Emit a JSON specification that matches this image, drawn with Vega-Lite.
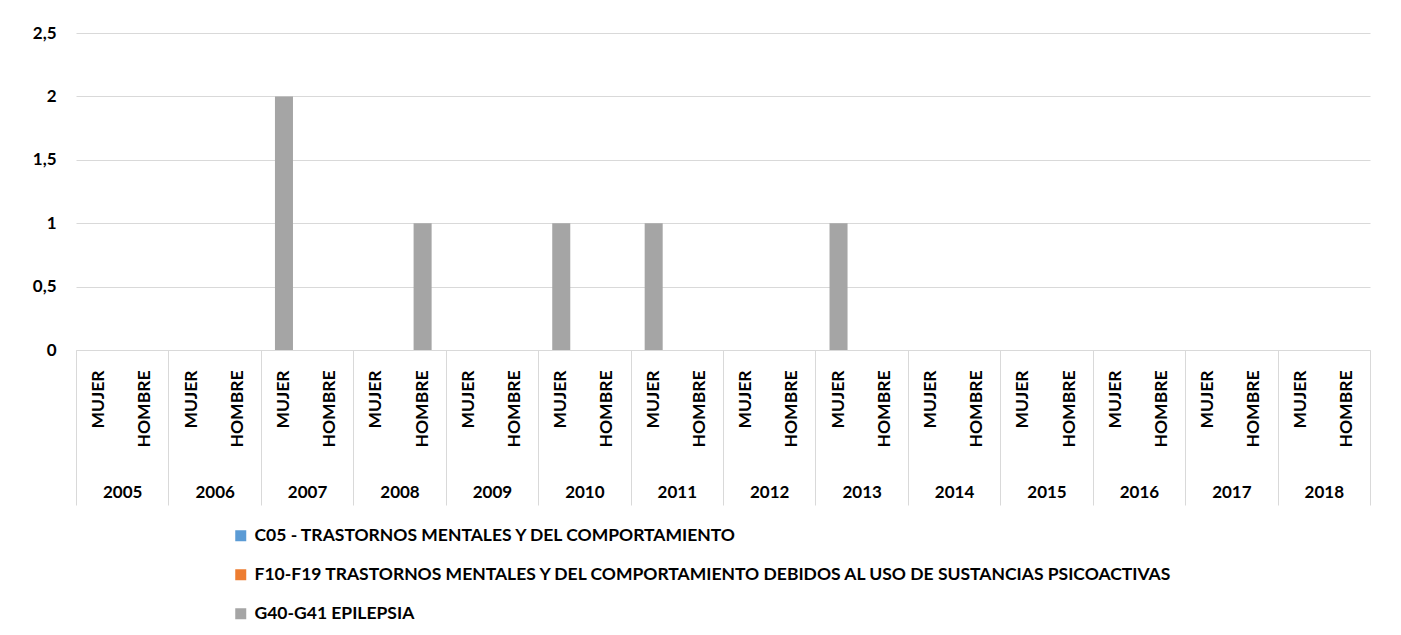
{
  "$schema": "https://vega.github.io/schema/vega-lite/v6.json",
  "autosize": {"type": "none"},
  "width": 1294,
  "height": 317,
  "padding": {"left": 76, "top": 33, "right": 31, "bottom": 285},
  "background": "white",
  "config": {"view": {"stroke": null}, "font": "Lato"},
  "data": {"values": [
    {"year":"2005","sex":"MUJER","x":"2005|MUJER","serie":"C05 - TRASTORNOS MENTALES Y DEL COMPORTAMIENTO","v":0},
    {"year":"2005","sex":"MUJER","x":"2005|MUJER","serie":"F10-F19 TRASTORNOS MENTALES Y DEL COMPORTAMIENTO DEBIDOS AL USO DE SUSTANCIAS PSICOACTIVAS","v":0},
    {"year":"2005","sex":"MUJER","x":"2005|MUJER","serie":"G40-G41 EPILEPSIA","v":0},
    {"year":"2005","sex":"HOMBRE","x":"2005|HOMBRE","serie":"C05 - TRASTORNOS MENTALES Y DEL COMPORTAMIENTO","v":0},
    {"year":"2005","sex":"HOMBRE","x":"2005|HOMBRE","serie":"F10-F19 TRASTORNOS MENTALES Y DEL COMPORTAMIENTO DEBIDOS AL USO DE SUSTANCIAS PSICOACTIVAS","v":0},
    {"year":"2005","sex":"HOMBRE","x":"2005|HOMBRE","serie":"G40-G41 EPILEPSIA","v":0},
    {"year":"2006","sex":"MUJER","x":"2006|MUJER","serie":"C05 - TRASTORNOS MENTALES Y DEL COMPORTAMIENTO","v":0},
    {"year":"2006","sex":"MUJER","x":"2006|MUJER","serie":"F10-F19 TRASTORNOS MENTALES Y DEL COMPORTAMIENTO DEBIDOS AL USO DE SUSTANCIAS PSICOACTIVAS","v":0},
    {"year":"2006","sex":"MUJER","x":"2006|MUJER","serie":"G40-G41 EPILEPSIA","v":0},
    {"year":"2006","sex":"HOMBRE","x":"2006|HOMBRE","serie":"C05 - TRASTORNOS MENTALES Y DEL COMPORTAMIENTO","v":0},
    {"year":"2006","sex":"HOMBRE","x":"2006|HOMBRE","serie":"F10-F19 TRASTORNOS MENTALES Y DEL COMPORTAMIENTO DEBIDOS AL USO DE SUSTANCIAS PSICOACTIVAS","v":0},
    {"year":"2006","sex":"HOMBRE","x":"2006|HOMBRE","serie":"G40-G41 EPILEPSIA","v":0},
    {"year":"2007","sex":"MUJER","x":"2007|MUJER","serie":"C05 - TRASTORNOS MENTALES Y DEL COMPORTAMIENTO","v":0},
    {"year":"2007","sex":"MUJER","x":"2007|MUJER","serie":"F10-F19 TRASTORNOS MENTALES Y DEL COMPORTAMIENTO DEBIDOS AL USO DE SUSTANCIAS PSICOACTIVAS","v":0},
    {"year":"2007","sex":"MUJER","x":"2007|MUJER","serie":"G40-G41 EPILEPSIA","v":2},
    {"year":"2007","sex":"HOMBRE","x":"2007|HOMBRE","serie":"C05 - TRASTORNOS MENTALES Y DEL COMPORTAMIENTO","v":0},
    {"year":"2007","sex":"HOMBRE","x":"2007|HOMBRE","serie":"F10-F19 TRASTORNOS MENTALES Y DEL COMPORTAMIENTO DEBIDOS AL USO DE SUSTANCIAS PSICOACTIVAS","v":0},
    {"year":"2007","sex":"HOMBRE","x":"2007|HOMBRE","serie":"G40-G41 EPILEPSIA","v":0},
    {"year":"2008","sex":"MUJER","x":"2008|MUJER","serie":"C05 - TRASTORNOS MENTALES Y DEL COMPORTAMIENTO","v":0},
    {"year":"2008","sex":"MUJER","x":"2008|MUJER","serie":"F10-F19 TRASTORNOS MENTALES Y DEL COMPORTAMIENTO DEBIDOS AL USO DE SUSTANCIAS PSICOACTIVAS","v":0},
    {"year":"2008","sex":"MUJER","x":"2008|MUJER","serie":"G40-G41 EPILEPSIA","v":0},
    {"year":"2008","sex":"HOMBRE","x":"2008|HOMBRE","serie":"C05 - TRASTORNOS MENTALES Y DEL COMPORTAMIENTO","v":0},
    {"year":"2008","sex":"HOMBRE","x":"2008|HOMBRE","serie":"F10-F19 TRASTORNOS MENTALES Y DEL COMPORTAMIENTO DEBIDOS AL USO DE SUSTANCIAS PSICOACTIVAS","v":0},
    {"year":"2008","sex":"HOMBRE","x":"2008|HOMBRE","serie":"G40-G41 EPILEPSIA","v":1},
    {"year":"2009","sex":"MUJER","x":"2009|MUJER","serie":"C05 - TRASTORNOS MENTALES Y DEL COMPORTAMIENTO","v":0},
    {"year":"2009","sex":"MUJER","x":"2009|MUJER","serie":"F10-F19 TRASTORNOS MENTALES Y DEL COMPORTAMIENTO DEBIDOS AL USO DE SUSTANCIAS PSICOACTIVAS","v":0},
    {"year":"2009","sex":"MUJER","x":"2009|MUJER","serie":"G40-G41 EPILEPSIA","v":0},
    {"year":"2009","sex":"HOMBRE","x":"2009|HOMBRE","serie":"C05 - TRASTORNOS MENTALES Y DEL COMPORTAMIENTO","v":0},
    {"year":"2009","sex":"HOMBRE","x":"2009|HOMBRE","serie":"F10-F19 TRASTORNOS MENTALES Y DEL COMPORTAMIENTO DEBIDOS AL USO DE SUSTANCIAS PSICOACTIVAS","v":0},
    {"year":"2009","sex":"HOMBRE","x":"2009|HOMBRE","serie":"G40-G41 EPILEPSIA","v":0},
    {"year":"2010","sex":"MUJER","x":"2010|MUJER","serie":"C05 - TRASTORNOS MENTALES Y DEL COMPORTAMIENTO","v":0},
    {"year":"2010","sex":"MUJER","x":"2010|MUJER","serie":"F10-F19 TRASTORNOS MENTALES Y DEL COMPORTAMIENTO DEBIDOS AL USO DE SUSTANCIAS PSICOACTIVAS","v":0},
    {"year":"2010","sex":"MUJER","x":"2010|MUJER","serie":"G40-G41 EPILEPSIA","v":1},
    {"year":"2010","sex":"HOMBRE","x":"2010|HOMBRE","serie":"C05 - TRASTORNOS MENTALES Y DEL COMPORTAMIENTO","v":0},
    {"year":"2010","sex":"HOMBRE","x":"2010|HOMBRE","serie":"F10-F19 TRASTORNOS MENTALES Y DEL COMPORTAMIENTO DEBIDOS AL USO DE SUSTANCIAS PSICOACTIVAS","v":0},
    {"year":"2010","sex":"HOMBRE","x":"2010|HOMBRE","serie":"G40-G41 EPILEPSIA","v":0},
    {"year":"2011","sex":"MUJER","x":"2011|MUJER","serie":"C05 - TRASTORNOS MENTALES Y DEL COMPORTAMIENTO","v":0},
    {"year":"2011","sex":"MUJER","x":"2011|MUJER","serie":"F10-F19 TRASTORNOS MENTALES Y DEL COMPORTAMIENTO DEBIDOS AL USO DE SUSTANCIAS PSICOACTIVAS","v":0},
    {"year":"2011","sex":"MUJER","x":"2011|MUJER","serie":"G40-G41 EPILEPSIA","v":1},
    {"year":"2011","sex":"HOMBRE","x":"2011|HOMBRE","serie":"C05 - TRASTORNOS MENTALES Y DEL COMPORTAMIENTO","v":0},
    {"year":"2011","sex":"HOMBRE","x":"2011|HOMBRE","serie":"F10-F19 TRASTORNOS MENTALES Y DEL COMPORTAMIENTO DEBIDOS AL USO DE SUSTANCIAS PSICOACTIVAS","v":0},
    {"year":"2011","sex":"HOMBRE","x":"2011|HOMBRE","serie":"G40-G41 EPILEPSIA","v":0},
    {"year":"2012","sex":"MUJER","x":"2012|MUJER","serie":"C05 - TRASTORNOS MENTALES Y DEL COMPORTAMIENTO","v":0},
    {"year":"2012","sex":"MUJER","x":"2012|MUJER","serie":"F10-F19 TRASTORNOS MENTALES Y DEL COMPORTAMIENTO DEBIDOS AL USO DE SUSTANCIAS PSICOACTIVAS","v":0},
    {"year":"2012","sex":"MUJER","x":"2012|MUJER","serie":"G40-G41 EPILEPSIA","v":0},
    {"year":"2012","sex":"HOMBRE","x":"2012|HOMBRE","serie":"C05 - TRASTORNOS MENTALES Y DEL COMPORTAMIENTO","v":0},
    {"year":"2012","sex":"HOMBRE","x":"2012|HOMBRE","serie":"F10-F19 TRASTORNOS MENTALES Y DEL COMPORTAMIENTO DEBIDOS AL USO DE SUSTANCIAS PSICOACTIVAS","v":0},
    {"year":"2012","sex":"HOMBRE","x":"2012|HOMBRE","serie":"G40-G41 EPILEPSIA","v":0},
    {"year":"2013","sex":"MUJER","x":"2013|MUJER","serie":"C05 - TRASTORNOS MENTALES Y DEL COMPORTAMIENTO","v":0},
    {"year":"2013","sex":"MUJER","x":"2013|MUJER","serie":"F10-F19 TRASTORNOS MENTALES Y DEL COMPORTAMIENTO DEBIDOS AL USO DE SUSTANCIAS PSICOACTIVAS","v":0},
    {"year":"2013","sex":"MUJER","x":"2013|MUJER","serie":"G40-G41 EPILEPSIA","v":1},
    {"year":"2013","sex":"HOMBRE","x":"2013|HOMBRE","serie":"C05 - TRASTORNOS MENTALES Y DEL COMPORTAMIENTO","v":0},
    {"year":"2013","sex":"HOMBRE","x":"2013|HOMBRE","serie":"F10-F19 TRASTORNOS MENTALES Y DEL COMPORTAMIENTO DEBIDOS AL USO DE SUSTANCIAS PSICOACTIVAS","v":0},
    {"year":"2013","sex":"HOMBRE","x":"2013|HOMBRE","serie":"G40-G41 EPILEPSIA","v":0},
    {"year":"2014","sex":"MUJER","x":"2014|MUJER","serie":"C05 - TRASTORNOS MENTALES Y DEL COMPORTAMIENTO","v":0},
    {"year":"2014","sex":"MUJER","x":"2014|MUJER","serie":"F10-F19 TRASTORNOS MENTALES Y DEL COMPORTAMIENTO DEBIDOS AL USO DE SUSTANCIAS PSICOACTIVAS","v":0},
    {"year":"2014","sex":"MUJER","x":"2014|MUJER","serie":"G40-G41 EPILEPSIA","v":0},
    {"year":"2014","sex":"HOMBRE","x":"2014|HOMBRE","serie":"C05 - TRASTORNOS MENTALES Y DEL COMPORTAMIENTO","v":0},
    {"year":"2014","sex":"HOMBRE","x":"2014|HOMBRE","serie":"F10-F19 TRASTORNOS MENTALES Y DEL COMPORTAMIENTO DEBIDOS AL USO DE SUSTANCIAS PSICOACTIVAS","v":0},
    {"year":"2014","sex":"HOMBRE","x":"2014|HOMBRE","serie":"G40-G41 EPILEPSIA","v":0},
    {"year":"2015","sex":"MUJER","x":"2015|MUJER","serie":"C05 - TRASTORNOS MENTALES Y DEL COMPORTAMIENTO","v":0},
    {"year":"2015","sex":"MUJER","x":"2015|MUJER","serie":"F10-F19 TRASTORNOS MENTALES Y DEL COMPORTAMIENTO DEBIDOS AL USO DE SUSTANCIAS PSICOACTIVAS","v":0},
    {"year":"2015","sex":"MUJER","x":"2015|MUJER","serie":"G40-G41 EPILEPSIA","v":0},
    {"year":"2015","sex":"HOMBRE","x":"2015|HOMBRE","serie":"C05 - TRASTORNOS MENTALES Y DEL COMPORTAMIENTO","v":0},
    {"year":"2015","sex":"HOMBRE","x":"2015|HOMBRE","serie":"F10-F19 TRASTORNOS MENTALES Y DEL COMPORTAMIENTO DEBIDOS AL USO DE SUSTANCIAS PSICOACTIVAS","v":0},
    {"year":"2015","sex":"HOMBRE","x":"2015|HOMBRE","serie":"G40-G41 EPILEPSIA","v":0},
    {"year":"2016","sex":"MUJER","x":"2016|MUJER","serie":"C05 - TRASTORNOS MENTALES Y DEL COMPORTAMIENTO","v":0},
    {"year":"2016","sex":"MUJER","x":"2016|MUJER","serie":"F10-F19 TRASTORNOS MENTALES Y DEL COMPORTAMIENTO DEBIDOS AL USO DE SUSTANCIAS PSICOACTIVAS","v":0},
    {"year":"2016","sex":"MUJER","x":"2016|MUJER","serie":"G40-G41 EPILEPSIA","v":0},
    {"year":"2016","sex":"HOMBRE","x":"2016|HOMBRE","serie":"C05 - TRASTORNOS MENTALES Y DEL COMPORTAMIENTO","v":0},
    {"year":"2016","sex":"HOMBRE","x":"2016|HOMBRE","serie":"F10-F19 TRASTORNOS MENTALES Y DEL COMPORTAMIENTO DEBIDOS AL USO DE SUSTANCIAS PSICOACTIVAS","v":0},
    {"year":"2016","sex":"HOMBRE","x":"2016|HOMBRE","serie":"G40-G41 EPILEPSIA","v":0},
    {"year":"2017","sex":"MUJER","x":"2017|MUJER","serie":"C05 - TRASTORNOS MENTALES Y DEL COMPORTAMIENTO","v":0},
    {"year":"2017","sex":"MUJER","x":"2017|MUJER","serie":"F10-F19 TRASTORNOS MENTALES Y DEL COMPORTAMIENTO DEBIDOS AL USO DE SUSTANCIAS PSICOACTIVAS","v":0},
    {"year":"2017","sex":"MUJER","x":"2017|MUJER","serie":"G40-G41 EPILEPSIA","v":0},
    {"year":"2017","sex":"HOMBRE","x":"2017|HOMBRE","serie":"C05 - TRASTORNOS MENTALES Y DEL COMPORTAMIENTO","v":0},
    {"year":"2017","sex":"HOMBRE","x":"2017|HOMBRE","serie":"F10-F19 TRASTORNOS MENTALES Y DEL COMPORTAMIENTO DEBIDOS AL USO DE SUSTANCIAS PSICOACTIVAS","v":0},
    {"year":"2017","sex":"HOMBRE","x":"2017|HOMBRE","serie":"G40-G41 EPILEPSIA","v":0},
    {"year":"2018","sex":"MUJER","x":"2018|MUJER","serie":"C05 - TRASTORNOS MENTALES Y DEL COMPORTAMIENTO","v":0},
    {"year":"2018","sex":"MUJER","x":"2018|MUJER","serie":"F10-F19 TRASTORNOS MENTALES Y DEL COMPORTAMIENTO DEBIDOS AL USO DE SUSTANCIAS PSICOACTIVAS","v":0},
    {"year":"2018","sex":"MUJER","x":"2018|MUJER","serie":"G40-G41 EPILEPSIA","v":0},
    {"year":"2018","sex":"HOMBRE","x":"2018|HOMBRE","serie":"C05 - TRASTORNOS MENTALES Y DEL COMPORTAMIENTO","v":0},
    {"year":"2018","sex":"HOMBRE","x":"2018|HOMBRE","serie":"F10-F19 TRASTORNOS MENTALES Y DEL COMPORTAMIENTO DEBIDOS AL USO DE SUSTANCIAS PSICOACTIVAS","v":0},
    {"year":"2018","sex":"HOMBRE","x":"2018|HOMBRE","serie":"G40-G41 EPILEPSIA","v":0}
  ]},
  "layer": [
    {
      "mark": {"type": "bar", "width": {"band": 0.39}},
      "encoding": {
        "x": {"field": "x", "type": "nominal", "sort": null,
          "scale": {"paddingInner": 0, "paddingOuter": 0},
          "axis": {"orient": "bottom", "title": null, "labelExpr": "split(datum.label, '|')[1]",
            "labelAngle": 270, "labelFont": "Lato", "labelFontWeight": "bold", "labelFontSize": 17.5,
            "labelColor": "#000000", "labelPadding": 20, "ticks": false, "domainColor": "#d9d9d9",
            "labelOverlap": false, "grid": false}},
        "y": {"field": "v", "type": "quantitative", "stack": true,
          "scale": {"domain": [0, 2.5]},
          "axis": {"title": null, "values": [0, 0.5, 1, 1.5, 2, 2.5],
            "labelExpr": "replace(toString(datum.value), '.', ',')",
            "domain": false, "ticks": false, "gridColor": "#d9d9d9",
            "labelFont": "Lato", "labelFontWeight": "bold", "labelFontSize": 17,
            "labelColor": "#000000", "labelPadding": 20}},
        "color": {"field": "serie", "type": "nominal",
          "scale": {"range": ["#5b9bd5", "#ed7d31", "#a5a5a5"]},
          "legend": {"orient": "none", "legendX": 156, "legendY": 494, "direction": "vertical",
            "title": null, "symbolType": "square", "symbolSize": 121, "symbolStrokeWidth": 0,
            "labelFont": "Lato", "labelFontSize": 17.5, "labelFontWeight": "bold", "labelColor": "#000000",
            "rowPadding": 20, "labelOffset": 5, "labelLimit": 1200}}
      }
    },
    {
      "mark": {"type": "bar", "opacity": 0},
      "encoding": {
        "x": {"field": "year", "type": "ordinal", "sort": null,
          "scale": {"paddingInner": 0, "paddingOuter": 0},
          "axis": {"orient": "bottom", "title": null, "labelAngle": 0, "domain": false,
            "tickBand": "extent", "tickSize": 155, "tickColor": "#d9d9d9", "tickWidth": 1,
            "labelFont": "Lato", "labelFontWeight": "bold", "labelFontSize": 17, "labelColor": "#000000",
            "labelPadding": -21, "grid": false}}
      }
    }
  ],
  "resolve": {"scale": {"x": "independent"}, "axis": {"x": "independent"}}
}
